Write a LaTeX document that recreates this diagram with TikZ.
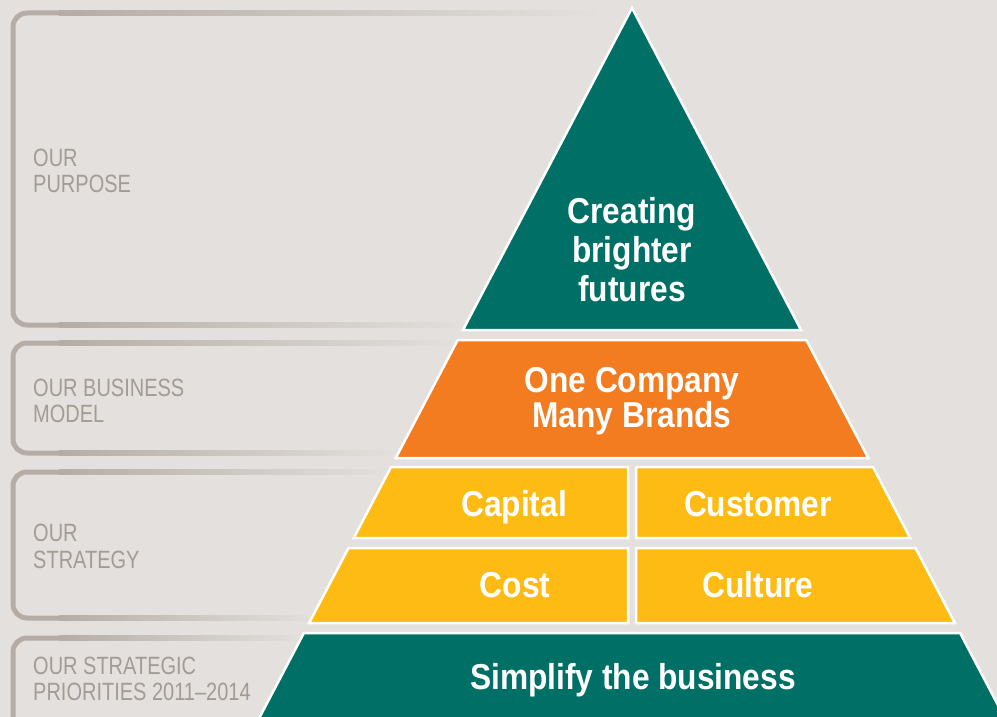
\documentclass[tikz,border=0pt]{standalone}
\usepackage{fontspec}
\setmainfont{Liberation Sans}
\newfontfamily\boldcond[FakeStretch=0.88]{Liberation Sans}
\newfontfamily\labelfont[FakeStretch=0.8]{Liberation Sans}
\definecolor{bg}{HTML}{E3E0DD}
\definecolor{brkgray}{HTML}{B5ADA5}
\definecolor{labelgray}{HTML}{A49C94}
\definecolor{teal}{HTML}{007066}
\definecolor{orng}{HTML}{F37B20}
\definecolor{yell}{HTML}{FDBB13}
\tikzset{
  piece/.style={draw=white, line width=2.5pt, line join=miter},
  big/.style={text=white, font=\boldcond\bfseries\fontsize{36}{39}\selectfont, anchor=base, inner sep=0pt},
  lab/.style={text=labelgray, font=\labelfont\fontsize{25}{26}\selectfont, anchor=base west, inner sep=0pt},
  brk/.style={draw=brkgray, line width=5pt, rounded corners=14pt},
}
\newcommand{\fadeline}[3]{% y, x start, x end
  \shade[left color=brkgray, right color=bg] (#2,#1-2.5) rectangle (#3,#1+2.5);}
\begin{document}
\begin{tikzpicture}[x=1pt,y=-1pt]
\fill[bg] (0,0) rectangle (997,717);
\useasboundingbox (0,0) rectangle (997,717);
% brackets
\draw[brk] (60,13) -- (13,13) -- (13,325) -- (60,325);
\fadeline{13}{59}{600}
\fadeline{325}{59}{470}
\draw[brk] (60,343) -- (13,343) -- (13,453) -- (60,453);
\fadeline{343}{59}{460}
\fadeline{453}{59}{400}
\draw[brk] (60,472) -- (13,472) -- (13,618) -- (60,618);
\fadeline{472}{59}{390}
\fadeline{618}{59}{315}
\draw[brk] (60,638) -- (13,638) -- (13,760) -- (60,760);
\fadeline{638}{59}{305}
% pyramid
\filldraw[piece, fill=teal] (632,8) -- (801.05,330) -- (462.95,330) -- cycle;
\filldraw[piece, fill=orng] (457.7,340) -- (806.3,340) -- (868.25,458) -- (395.75,458) -- cycle;
\filldraw[piece, fill=yell] (391.0,467) -- (628,467) -- (628,538) -- (353.75,538) -- cycle;
\filldraw[piece, fill=yell] (636,467) -- (873.0,467) -- (910.25,538) -- (636,538) -- cycle;
\filldraw[piece, fill=yell] (348.5,548) -- (628,548) -- (628,623) -- (309.1,623) -- cycle;
\filldraw[piece, fill=yell] (636,548) -- (915.5,548) -- (954.9,623) -- (636,623) -- cycle;
\filldraw[piece, fill=teal] (303.9,633) -- (960.1,633) -- (1005.8,720) -- (258.2,720) -- cycle;
% pyramid texts
\node[big] (cr1) at (632,223) {Creating};
\node[big] (cr2) at (632,262) {brighter};
\node[big] (cr3) at (632,301) {futures};
\node[big] (oc1) at (632,392) {One Company};
\node[big] (oc2) at (632,427) {Many Brands};
\node[big] (cap) at (514,516) {Capital};
\node[big] (cus) at (758,516) {Customer};
\node[big] (cos) at (515,597) {Cost};
\node[big] (cul) at (758,597) {Culture};
\node[big] (sim) at (633,689) {Simplify the business};
% left labels
\node[lab] (l1a) at (33,166) {OUR};
\node[lab] (l1b) at (33,192) {PURPOSE};
\node[lab] (l2a) at (33,396) {OUR BUSINESS};
\node[lab] (l2b) at (33,422) {MODEL};
\node[lab] (l3a) at (33,541) {OUR};
\node[lab] (l3b) at (33,568) {STRATEGY};
\node[lab] (l4a) at (33,674) {OUR STRATEGIC};
\node[lab] (l4b) at (33,700) {PRIORITIES 2011–2014};
\end{tikzpicture}
\end{document}
